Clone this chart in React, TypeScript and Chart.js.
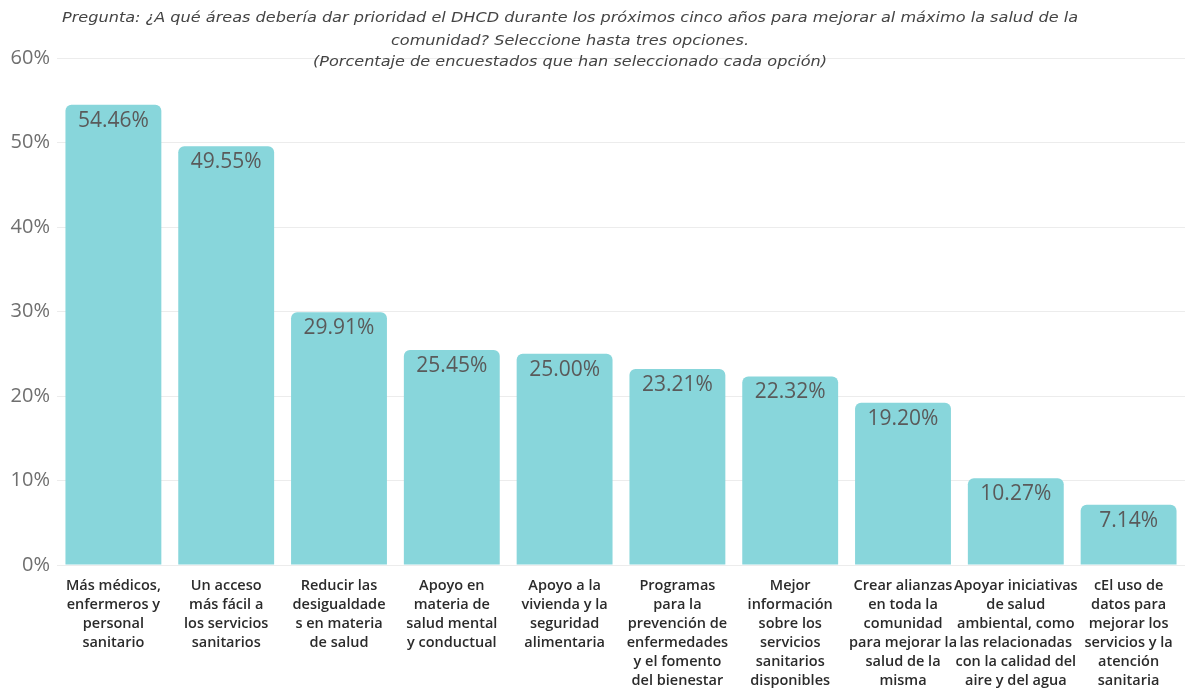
import React, { useEffect, useRef } from "react";
import { Chart, registerables } from "chart.js";

Chart.register(...registerables);

const categories: string[][] = [
  ["Más médicos,", "enfermeros y", "personal", "sanitario"],
  ["Un acceso", "más fácil a", "los servicios", "sanitarios"],
  ["Reducir las", "desigualdade", "s en materia", "de salud"],
  ["Apoyo en", "materia de", "salud mental", "y conductual"],
  ["Apoyo a la", "vivienda y la", "seguridad", "alimentaria"],
  ["Programas", "para la", "prevención de", "enfermedades", "y el fomento", "del bienestar"],
  ["Mejor", "información", "sobre los", "servicios", "sanitarios", "disponibles"],
  ["Crear alianzas", "en toda la", "comunidad", "para mejorar la", "salud de la", "misma"],
  ["Apoyar iniciativas", "de salud", "ambiental, como", "las relacionadas", "con la calidad del", "aire y del agua"],
  ["cEl uso de", "datos para", "mejorar los", "servicios y la", "atención", "sanitaria"],
];

const values: number[] = [54.46, 49.55, 29.91, 25.45, 25.0, 23.21, 22.32, 19.2, 10.27, 7.14];

const titleLines: string[] = [
  "Pregunta: ¿A qué áreas debería dar prioridad el DHCD durante los próximos cinco años para mejorar al máximo la salud de la",
  "comunidad? Seleccione hasta tres opciones.",
  "(Porcentaje de encuestados que han seleccionado cada opción)",
];

const yTicks: number[] = [0, 10, 20, 30, 40, 50, 60];

const valueLabelPlugin = {
  id: "valueLabels",
  afterDatasetsDraw(chart: any) {
    const ctx = chart.ctx;
    const meta = chart.getDatasetMeta(0);
    ctx.save();
    ctx.font = "21px 'Open Sans', sans-serif";
    ctx.fillStyle = "#5a5a5a";
    ctx.textAlign = "center";
    ctx.textBaseline = "middle";
    meta.data.forEach((bar: any, i: number) => {
      ctx.fillText(values[i].toFixed(2) + "%", bar.x, bar.y + 16);
    });
    ctx.restore();
  },
};

const titlePlugin = {
  id: "overlayTitle",
  afterDraw(chart: any) {
    const ctx = chart.ctx;
    ctx.save();
    ctx.font = "italic 14px 'DejaVu Sans', sans-serif";
    ctx.fillStyle = "#444";
    ctx.textAlign = "center";
    ctx.textBaseline = "middle";
    const w = ctx.measureText(titleLines[0]).width;
    const sx = 1016 / w;
    const ys = [18, 41, 62];
    titleLines.forEach((line, i) => {
      ctx.save();
      ctx.translate(570, ys[i]);
      ctx.scale(sx, 1);
      ctx.fillText(line, 0, 0);
      ctx.restore();
    });
    ctx.restore();
  },
};

export default function App() {
  const ref = useRef<HTMLCanvasElement | null>(null);
  useEffect(() => {
    document.body.style.margin = "0";
    if (!ref.current) return;
    const chart = new Chart(ref.current, {
      type: "bar",
      data: {
        labels: categories,
        datasets: [
          {
            data: values,
            backgroundColor: "#88d6db",
            borderRadius: { topLeft: 6, topRight: 6, bottomLeft: 0, bottomRight: 0 },
            borderSkipped: "bottom",
            barPercentage: 0.85,
            categoryPercentage: 1,
          },
        ],
      },
      options: {
        animation: false,
        responsive: false,
        maintainAspectRatio: false,
        layout: { padding: { top: 58, right: 3, left: 0, bottom: 0 } },
        plugins: { legend: { display: false }, tooltip: { enabled: false }, title: { display: false } },
        scales: {
          x: {
            grid: { display: false, drawTicks: false },
            border: { display: false },
            ticks: {
              color: "#2b2b2b",
              font: { family: "'Open Sans', sans-serif", size: 14.5, weight: 600, lineHeight: 1.31 },
              padding: 11,
              maxRotation: 0,
              autoSkip: false,
            },
            afterFit(scale: any) {
              scale.height = 125;
            },
          },
          y: {
            min: 0,
            max: 60,
            afterBuildTicks(scale: any) {
              scale.ticks = yTicks.map((v) => ({ value: v }));
            },
            grid: { color: "#ececec", drawTicks: false },
            border: { display: false },
            ticks: {
              color: "#6f6f6f",
              font: { family: "'Open Sans', sans-serif", size: 20 },
              padding: 7,
              callback: (v: any) => v + "%",
            },
            afterFit(scale: any) {
              scale.width = 57;
            },
          },
        },
      },
      plugins: [valueLabelPlugin, titlePlugin],
    });
    return () => chart.destroy();
  }, []);
  return <canvas ref={ref} width={1188} height={690} style={{ display: "block" }} />;
}
